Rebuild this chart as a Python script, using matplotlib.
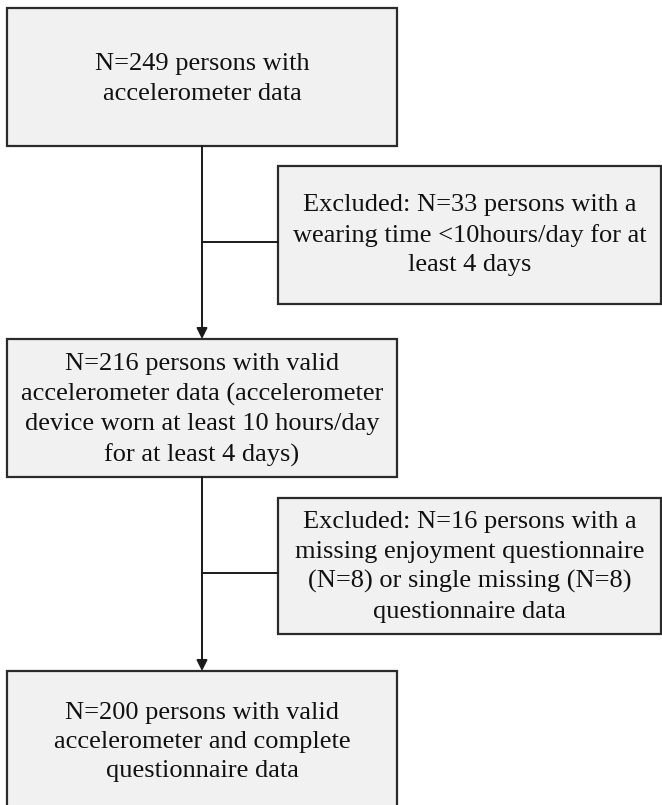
import matplotlib.pyplot as plt
from matplotlib.patches import Rectangle

plt.rcParams["font.family"] = ["Liberation Serif", "DejaVu Serif"]

# flow boxes (main column)
main_texts = [
    "N=249 persons with\naccelerometer data",
    "N=216 persons with valid\naccelerometer data (accelerometer\ndevice worn at least 10 hours/day\nfor at least 4 days)",
    "N=200 persons with valid\naccelerometer and complete\nquestionnaire data",
]
# exclusion boxes (side column)
excl_texts = [
    "Excluded: N=33 persons with a\nwearing time <10hours/day for at\nleast 4 days",
    "Excluded: N=16 persons with a\nmissing enjoyment questionnaire\n(N=8) or single missing (N=8)\nquestionnaire data",
]

# layout in pixels (top-left origin)
main_boxes = [(7, 8, 390, 138), (7, 339, 390, 138), (7, 671, 390, 150)]
main_text_y = [79, 410, 742]
excl_boxes = [(278, 166, 383, 138), (278, 498, 383, 136)]
excl_text_y = [235, 567]
branch_y = [242, 573]
spine_x = 202

fill = "#f1f1f1"
edge = "#2b2b2b"

fig = plt.figure(figsize=(6.62, 8.05), dpi=100)
ax = fig.add_axes([0, 0, 1, 1])
ax.set_xlim(0, 662)
ax.set_ylim(805, 0)
ax.axis("off")

for (x, y, w, h), ty, txt in zip(main_boxes, main_text_y, main_texts):
    ax.add_patch(Rectangle((x, y), w, h, facecolor=fill, edgecolor=edge, lw=1.6))
    ax.text(x + w / 2, ty, txt, ha="center", va="center", fontsize=19,
            color="#111111", linespacing=1.43)

for (x, y, w, h), ty, txt in zip(excl_boxes, excl_text_y, excl_texts):
    ax.add_patch(Rectangle((x, y), w, h, facecolor=fill, edgecolor=edge, lw=1.6))
    ax.text(x + w / 2, ty, txt, ha="center", va="center", fontsize=19,
            color="#111111", linespacing=1.43)

# vertical arrows between main boxes, with side branches
for i in range(len(main_boxes) - 1):
    top = main_boxes[i][1] + main_boxes[i][3]
    bottom = main_boxes[i + 1][1]
    ax.annotate("", xy=(spine_x, bottom), xytext=(spine_x, top),
                arrowprops=dict(arrowstyle="-|>", color="#1a1a1a", lw=1.4,
                                mutation_scale=16, shrinkA=0, shrinkB=0))
    ax.plot([spine_x, excl_boxes[i][0]], [branch_y[i], branch_y[i]],
            color="#1a1a1a", lw=1.4)

fig.savefig("out.png", dpi=100, facecolor="white")
